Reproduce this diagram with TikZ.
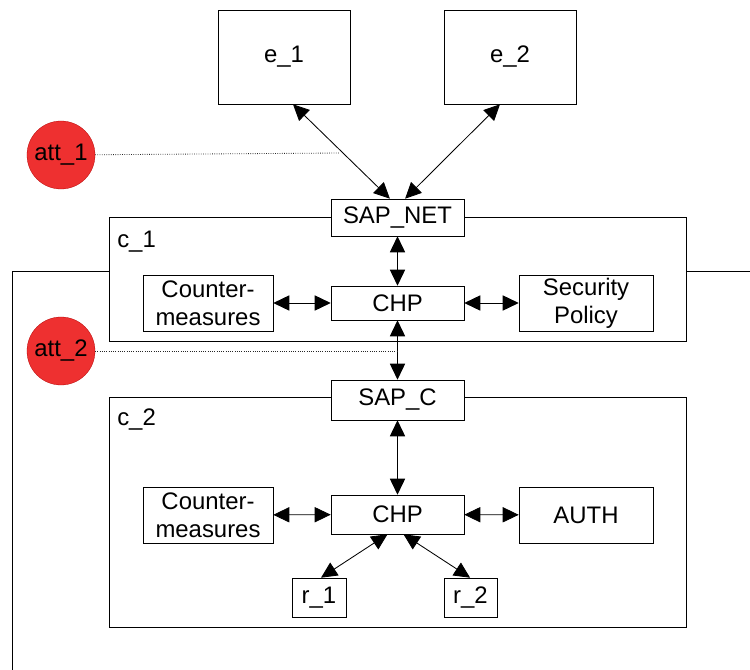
\documentclass[tikz,border=0pt]{standalone}
\usepackage{fontspec}
\setmainfont{Liberation Sans}
\usetikzlibrary{arrows.meta}

\definecolor{attred}{HTML}{EE3030}

\begin{document}
\begin{tikzpicture}[
    x=0.025cm, y=-0.025cm,
    box/.style={draw, thin, fill=white, inner sep=0pt, align=center,
                font=\fontsize{17}{20}\selectfont},
    frame/.style={draw, thin, fill=white, inner sep=0pt},
    attacker/.style={circle, draw=red!70!black, fill=attred, very thin,
                     minimum size=1.7cm, inner sep=0pt,
                     font=\fontsize{17}{20}\selectfont},
    link/.style={<->, >={Triangle[length=4mm,width=3.8mm]}, line width=0.6pt},
    probe/.style={densely dotted, line width=0.6pt, black!85},
    tag/.style={font=\fontsize{17}{20}\selectfont, anchor=north west, inner sep=0pt}
]
    % Fix the picture size
    \useasboundingbox (0,0) rectangle (750,670);

    % Boundary line behind c_1
    \coordinate (bl) at (12,670);
    \coordinate (tl) at (12,271);
    \coordinate (tr) at (750,271);

    % Containers
    \node[frame, minimum width=14.425cm, minimum height=3.1cm] (c1) at (397.5,279) {};
    \node[frame, minimum width=14.425cm, minimum height=5.75cm] (c2) at (397.5,512) {};
    \node[tag] at (117,231) {c\_1};
    \node[tag] at (117,409) {c\_2};

    \draw[thin] (bl) -- (tl) -- (tl -| c1.west);
    \draw[thin] (c1.east |- tr) -- (tr);

    % Endpoints on top
    \node[box, minimum width=3.3cm, minimum height=2.35cm] (e1) at (284,57) {e\_1};
    \node[box, minimum width=3.3cm, minimum height=2.35cm] (e2) at (510,57) {e\_2};

    % Inner boxes of c_1
    \node[box, minimum width=3.325cm, minimum height=0.925cm] (sapnet) at (397.5,217.5) {SAP\_NET};
    \node[box, minimum width=3.25cm, minimum height=1.4cm] (cm1) at (208,303) {Counter-\\measures};
    \node[box, minimum width=3.325cm, minimum height=0.85cm] (chp1) at (397.5,303) {CHP};
    \node[box, minimum width=3.35cm, minimum height=1.4cm] (secpol) at (586,303) {Security\\Policy};

    % Inner boxes of c_2
    \node[box, minimum width=3.325cm, minimum height=1cm] (sapc) at (397.5,400) {SAP\_C};
    \node[box, minimum width=3.25cm, minimum height=1.4cm] (cm2) at (208,515) {Counter-\\measures};
    \node[box, minimum width=3.325cm, minimum height=0.975cm] (chp2) at (397.5,514.5) {CHP};
    \node[box, minimum width=3.35cm, minimum height=1.4cm] (auth) at (586,515) {AUTH};
    \node[box, minimum width=1.35cm, minimum height=0.975cm] (r1) at (319,597.5) {r\_1};
    \node[box, minimum width=1.325cm, minimum height=0.975cm] (r2) at (470.5,597.5) {r\_2};

    % Attackers
    \node[attacker] (att1) at (61,155) {att\_1};
    \node[attacker] (att2) at (61,351) {att\_2};
    \coordinate (hit1) at (340,153);
    \coordinate (hit2) at (398,351);

    % Connectors
    \draw[link] ([xshift=0.225cm]e1.south) -- ([xshift=-0.19cm]sapnet.north);
    \draw[link] ([xshift=-0.25cm]e2.south) -- ([xshift=0.19cm]sapnet.north);
    \draw[link] (sapnet) -- (chp1);
    \draw[link] (cm1) -- (chp1);
    \draw[link] (chp1) -- (secpol);
    \draw[link] (chp1) -- (sapc);
    \draw[link] (sapc) -- (chp2);
    \draw[link] (cm2) -- (chp2);
    \draw[link] (chp2) -- (auth);
    \draw[link] ([xshift=-0.25cm]chp2.south) -- ([xshift=0.05cm]r1.north);
    \draw[link] ([xshift=0.15cm]chp2.south) -- ([xshift=-0.01cm]r2.north);

    % Attack paths
    \draw[probe] (att1) -- (hit1);
    \draw[probe] (att2) -- (hit2);
\end{tikzpicture}
\end{document}
